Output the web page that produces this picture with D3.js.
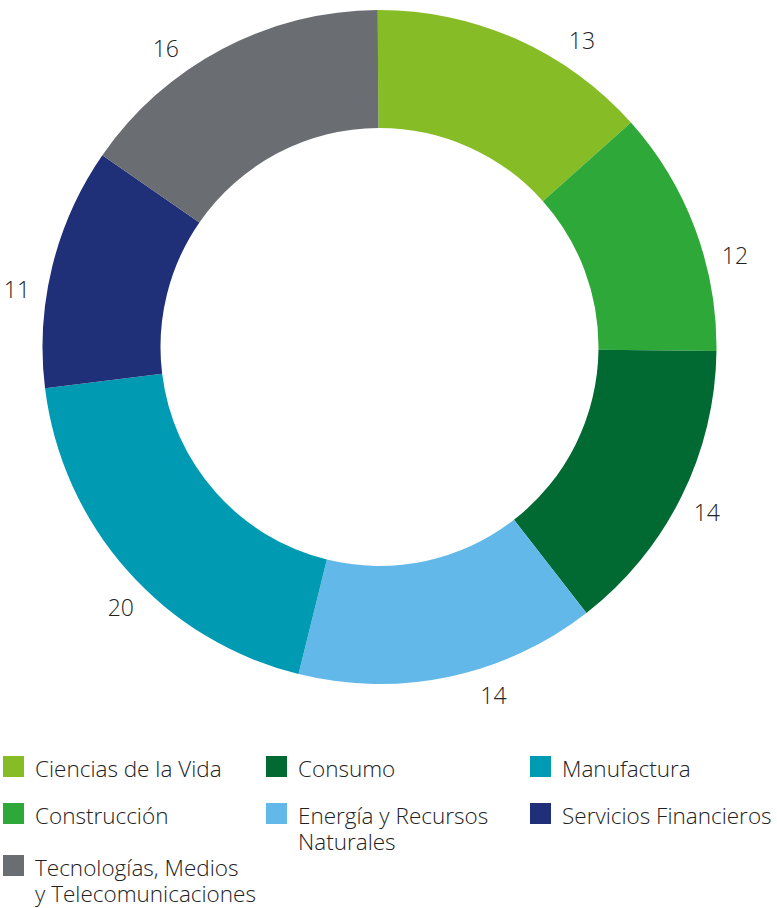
<!DOCTYPE html>
<html>
<head>
<meta charset="utf-8">
<script src="https://cdn.jsdelivr.net/npm/d3@7"></script>
<style>
  html, body { margin: 0; padding: 0; background: #fff; }
  svg text { font-family: "Open Sans", sans-serif; font-weight: 300; fill: #222; }
</style>
</head>
<body>
<svg id="chart" width="777" height="908"></svg>
<script>
// Sectors, clockwise from 12 o'clock.
const sectors = [ 'Ciencias de la Vida', 'Construcción', 'Consumo', 'Energía y Recursos Naturales',
                  'Manufactura', 'Servicios Financieros', 'Tecnologías, Medios y Telecomunicaciones' ];
// Slice sizes as drawn, and the numbers printed next to them.
const shares      = [ 13.5, 11.8, 14.3, 14.4, 19.2, 11.6, 15.3 ];
const shareLabels = [ '13', '12', '14', '14', '20', '11', '16' ];
const colours     = [ '#86bc25', '#2ea838', '#006a32', '#62b9e9', '#009ab3', '#1f2f78', '#6a6d71' ];

// Legend lines (wrapped like the original) in reading order.
const legendOrder = [ 0, 2, 4, 1, 3, 5, 6 ];
const legendLines = {
  3: [ 'Energía y Recursos', 'Naturales' ],
  6: [ 'Tecnologías, Medios', 'y Telecomunicaciones' ]
};

// Layout.
const cx = 379.5, cy = 347;
const outerR = 337, innerR = 219, labelR = 367;
const labelNudge = [ 9.5, 6.1, 0.5, -6.1, -3.6, -4.9, -7.8 ]; // degrees, hand placement
const colX = [ 3, 266, 530 ];
const rowY = [ 756, 803, 855 ];
const swatch = 21;

const svg = d3.select( '#chart' );
const g   = svg.append( 'g' ).attr( 'transform', `translate(${cx},${cy})` );

const start = -0.3 * Math.PI / 180;
const pie = d3.pie( ).sort( null ).value( d => d )
  .startAngle( start ).endAngle( start + 2 * Math.PI );
const arc = d3.arc( ).innerRadius( innerR ).outerRadius( outerR );
const arcs = pie( shares );

g.selectAll( 'path' )
  .data( arcs )
  .enter( ).append( 'path' )
    .attr( 'd', arc )
    .attr( 'fill', ( d, i ) => colours[i] );

// Value labels outside the ring.
const labelAngle = ( d, i ) => ( d.startAngle + d.endAngle ) / 2 + labelNudge[i] * Math.PI / 180;
g.selectAll( 'text.value' )
  .data( arcs )
  .enter( ).append( 'text' )
    .attr( 'class', 'value' )
    .attr( 'x', ( d, i ) =>  labelR * Math.sin( labelAngle( d, i ) ) )
    .attr( 'y', ( d, i ) => -labelR * Math.cos( labelAngle( d, i ) ) )
    .attr( 'dy', '0.36em' )
    .attr( 'text-anchor', 'middle' )
    .style( 'font-size', '23px' )
    .text( ( d, i ) => shareLabels[i] );

// Legend.
const legend = svg.append( 'g' ).selectAll( 'g' )
  .data( legendOrder )
  .enter( ).append( 'g' )
    .attr( 'transform', ( d, i ) => `translate(${colX[i % 3]},${rowY[Math.floor( i / 3 )]})` );

legend.append( 'rect' )
  .attr( 'width', swatch )
  .attr( 'height', swatch )
  .attr( 'fill', d => colours[d] );

legend.append( 'text' )
  .attr( 'x', 32 )
  .attr( 'y', 20.5 )
  .style( 'font-size', '22.5px' )
  .selectAll( 'tspan' )
  .data( d => legendLines[d] || [ sectors[d] ] )
  .enter( ).append( 'tspan' )
    .attr( 'x', 32 )
    .attr( 'dy', ( d, i ) => i ? 26 : 0 )
    .text( d => d );
</script>
</body>
</html>
